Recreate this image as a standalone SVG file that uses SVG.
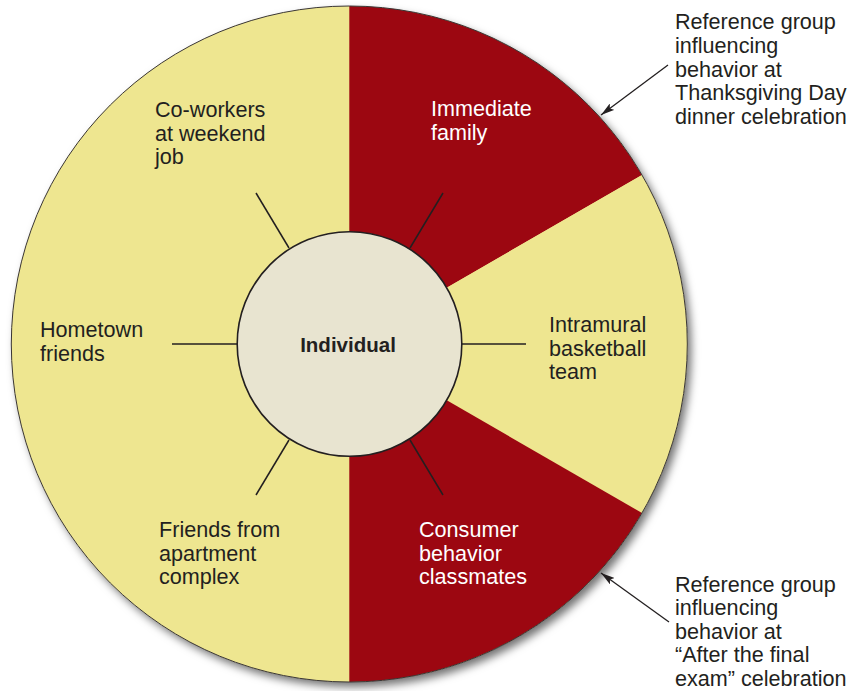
<svg xmlns="http://www.w3.org/2000/svg" width="849" height="691" viewBox="0 0 849 691">
<style>
.t{font-family:"Liberation Sans",Arial,sans-serif;font-size:21.6px;fill:#231f20}
.w{fill:#ffffff}
.spoke{stroke:#231f20;stroke-width:1.5;fill:none}
.yl{fill:#eee690}
.rd{fill:#9c0711}
.ar{stroke:#231f20;stroke-width:1.3;fill:none}
</style>
<defs>
<filter id="sh" x="-10%" y="-10%" width="125%" height="125%">
<feDropShadow dx="4" dy="5" stdDeviation="4" flood-color="#000" flood-opacity="0.55"/>
</filter>
<marker id="ah" viewBox="0 0 14 8" refX="14" refY="4" markerWidth="14" markerHeight="8" markerUnits="userSpaceOnUse" orient="auto">
<path d="M0,0 L14,4 L0,8 L3,4 Z" fill="#231f20"/>
</marker>
</defs>
<g id="wheel">
<circle cx="349.3" cy="344" r="338" fill="#eee690" filter="url(#sh)"/>
<path class="yl" d="M349.3,344 L349.3,6 A338,338 0 0 0 349.3,682 Z"/>
<path class="rd" d="M349.3,344 L349.3,6 A338,338 0 0 1 642,175 Z"/>
<path class="yl" d="M349.3,344 L642,175 A338,338 0 0 1 642,513 Z"/>
<path class="rd" d="M349.3,344 L642,513 A338,338 0 0 1 349.3,682 Z"/>
<circle cx="349.3" cy="344" r="338" fill="none" stroke="#3a3636" stroke-width="1"/>
</g>
<g id="connectors">
<line class="spoke" x1="256" y1="193" x2="289" y2="248"/>
<line class="spoke" x1="443" y1="193" x2="410" y2="248"/>
<line class="spoke" x1="172" y1="344" x2="237" y2="344"/>
<line class="spoke" x1="462" y1="344" x2="526" y2="344"/>
<line class="spoke" x1="256" y1="495" x2="289" y2="440"/>
<line class="spoke" x1="443" y1="495" x2="410" y2="440"/>
<line class="ar" x1="668" y1="65" x2="601" y2="115" marker-end="url(#ah)"/>
<line class="ar" x1="669" y1="622" x2="601" y2="573" marker-end="url(#ah)"/>
</g>
<g id="individual">
<circle cx="349.5" cy="344" r="112.3" fill="#e8e4d0" stroke="#231f20" stroke-width="1.6"/>
<text x="348" y="352" text-anchor="middle" style="font-family:'Liberation Sans',Arial,sans-serif;font-size:20.5px;font-weight:bold;fill:#231f20">Individual</text>
</g>
<g id="coworkers">
<text class="t" x="155" y="117">Co-workers</text>
<text class="t" x="155" y="140.5">at weekend</text>
<text class="t" x="155" y="164">job</text>
</g>
<g id="family">
<text class="t w" x="431" y="116">Immediate</text>
<text class="t w" x="431" y="139.5">family</text>
</g>
<g id="hometown">
<text class="t" x="40" y="337">Hometown</text>
<text class="t" x="40" y="360.5">friends</text>
</g>
<g id="intramural">
<text class="t" x="549" y="332">Intramural</text>
<text class="t" x="549" y="355.5">basketball</text>
<text class="t" x="549" y="379">team</text>
</g>
<g id="apartment">
<text class="t" x="159" y="537">Friends from</text>
<text class="t" x="159" y="560.5">apartment</text>
<text class="t" x="159" y="584">complex</text>
</g>
<g id="classmates">
<text class="t w" x="419" y="537">Consumer</text>
<text class="t w" x="419" y="560.5">behavior</text>
<text class="t w" x="419" y="584">classmates</text>
</g>
<g id="note-thanksgiving">
<text class="t" x="675" y="29">Reference group</text>
<text class="t" x="675" y="52.8">influencing</text>
<text class="t" x="675" y="76.6">behavior at</text>
<text class="t" x="675" y="100.4">Thanksgiving Day</text>
<text class="t" x="675" y="124.2">dinner celebration</text>
</g>
<g id="note-final-exam">
<text class="t" x="675" y="591.5">Reference group</text>
<text class="t" x="675" y="615.1">influencing</text>
<text class="t" x="675" y="638.7">behavior at</text>
<text class="t" x="675" y="662.3">“After the final</text>
<text class="t" x="675" y="685.9">exam” celebration</text>
</g>
</svg>
